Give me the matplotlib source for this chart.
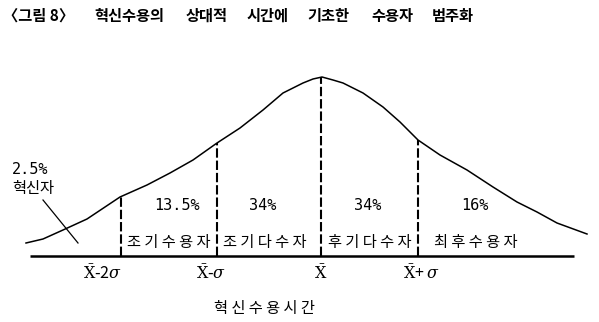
import numpy as np
import matplotlib
matplotlib.use('Agg')
import matplotlib.pyplot as plt

plt.rcParams['font.family'] = ['Noto Sans CJK KR', 'DejaVu Sans']
plt.rcParams['mathtext.fontset'] = 'dejavuserif'

# curve: z in sigma units from the mean, h = height above the base line
curve_z = [-2.95, -2.78, -2.58, -2.34, -2.01, -1.74, -1.51, -1.28, -1.04, -0.81, -0.58,
           -0.38, -0.18, -0.08, 0.01, 0.12, 0.22, 0.42, 0.62, 0.79, 0.97, 1.19, 1.46,
           1.72, 1.96, 2.16, 2.36, 2.66]
curve_h = [0.13, 0.17, 0.26, 0.37, 0.59, 0.71, 0.83, 0.96, 1.13, 1.28, 1.46,
           1.63, 1.73, 1.77, 1.79, 1.76, 1.73, 1.63, 1.49, 1.34, 1.16, 1.01, 0.86,
           0.69, 0.54, 0.44, 0.33, 0.22]

# dashed dividers
cut_z = [-2.00, -1.04, 0.0, 0.97]
cut_labels = [r'$\bar{\mathrm{X}}$-2$\sigma$', r'$\bar{\mathrm{X}}$-$\sigma$',
              r'$\bar{\mathrm{X}}$', r'$\bar{\mathrm{X}}$+ $\sigma$']
cut_label_z = [-2.18, -1.10, 0.0, 1.01]

# categories
shares = ['13.5%', '34%', '34%', '16%']
groups = ['조기수용자', '조기다수자', '후기다수자', '최후수용자']
share_z = [-1.44, -0.58, 0.47, 1.54]
group_z = [-1.52, -0.56, 0.49, 1.55]

title_words = ['〈그림 8〉', '혁신수용의', '상대적', '시간에', '기초한', '수용자', '범주화']
title_x = [-3.18, -2.27, -1.35, -0.74, -0.14, 0.50, 1.11]


def spaced(s):
    return ' '.join(list(s))


fig = plt.figure(figsize=(5.99, 3.22), dpi=100)
ax = fig.add_axes([0, 0, 1, 1])
ax.set_xlim(-3.21, 2.78)
ax.set_ylim(-0.66, 2.56)
ax.axis('off')

# curve + base line
ax.plot(curve_z, curve_h, color='black', lw=1.1)
ax.plot([-2.91, 2.53], [0, 0], color='black', lw=1.8, solid_capstyle='butt')

# dashed lines up to the curve
for z in cut_z:
    top = np.interp(z, curve_z, curve_h)
    ax.plot([z, z], [0, top], color='black', lw=1.5, linestyle=(0, (4.5, 1.4)))

for z, lab in zip(cut_label_z, cut_labels):
    ax.text(z, -0.18, lab, ha='center', va='center', fontsize=11.5)

for z, s in zip(share_z, shares):
    ax.text(z, 0.50, s, ha='center', va='center', fontsize=11, family='DejaVu Sans Mono')
for z, g in zip(group_z, groups):
    ax.text(z, 0.14, spaced(g), ha='center', va='center', fontsize=11)

# innovators note with leader line
ax.text(-3.09, 0.86, '2.5%', ha='left', va='center', fontsize=11, family='DejaVu Sans Mono')
ax.text(-3.09, 0.68, '혁신자', ha='left', va='center', fontsize=11)
ax.plot([-2.78, -2.43], [0.56, 0.13], color='black', lw=0.9)

ax.text(-0.57, -0.52, spaced('혁신수용시간'), ha='center', va='center', fontsize=11)

for x, w in zip(title_x, title_words):
    ax.text(x, 2.40, w, ha='left', va='center', fontsize=11, fontweight='bold')

fig.savefig('out.png', dpi=100)
